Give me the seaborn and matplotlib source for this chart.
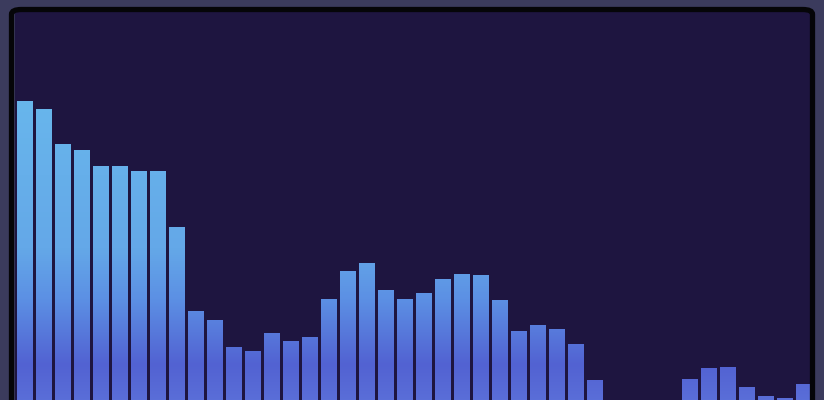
import numpy as np
import pandas as pd
import matplotlib
matplotlib.use("Agg")
import matplotlib.pyplot as plt
import seaborn as sns
from matplotlib.colors import LinearSegmentedColormap
from matplotlib.patches import FancyBboxPatch

sns.set_theme(style="white")

# spectrum levels, one per band (the last few bands sit below the visible area)
bands = [f"b{i:02d}" for i in range(42)]
levels = [379, 371, 336, 330, 314, 314, 309, 309, 253, 169,
          160, 133, 129, 147, 139, 143, 181, 209, 217, 190,
          181, 187, 201, 206, 205, 180, 149, 155, 151, 136,
          100, 60, 50, 55, 70, 101, 112, 113, 93, 84,
          82, 96]

df = pd.DataFrame({"band": bands, "level": levels})

fig = plt.figure(figsize=(8.24, 4.0), dpi=100)
fig.patch.set_facecolor("#3b3b5d")

ax = fig.add_axes([15 / 824, 0, 798 / 824, 388 / 400])
ax.set_facecolor("#1e1540")

sns.barplot(data=df, x="band", y="level", ax=ax, width=0.84,
            color="#5c90e4", saturation=1, linewidth=0)

ax.set_xlim(-0.5, len(bands) - 0.5)
ax.set_ylim(80, 468)

# vertical gradient shared by all bars
cmap = LinearSegmentedColormap.from_list("bars", [
    (0.0, "#5a6ed8"),
    (0.09, "#5262d2"),
    (0.26, "#5c90e4"),
    (0.39, "#64a8e8"),
    (0.77, "#68b6ec"),
    (1.0, "#6ab8ee"),
])
grad = np.linspace(0, 1, 256).reshape(-1, 1)
x0, x1 = ax.get_xlim()
y0, y1 = ax.get_ylim()
for bar in list(ax.patches):
    bar.set_facecolor("none")
    im = ax.imshow(grad, extent=[x0, x1, y0, y1], origin="lower",
                   aspect="auto", cmap=cmap, zorder=2)
    im.set_clip_path(bar)

ax.set_xlim(x0, x1)
ax.set_ylim(y0, y1)
ax.set_xlabel("")
ax.set_ylabel("")
ax.set_xticks([])
ax.set_yticks([])
for s in ax.spines.values():
    s.set_visible(False)

# black rounded frame around the plot area
frame = FancyBboxPatch((11.5 / 824, -0.2), 801 / 824, 1.2 - 9.5 / 400 + 0.0,
                       boxstyle="round,pad=0,rounding_size=0.012",
                       transform=fig.transFigure, facecolor="none",
                       edgecolor="#050508", linewidth=3.8, zorder=10)
fig.patches.append(frame)

fig.savefig("out.png", dpi=100, facecolor=fig.get_facecolor())
